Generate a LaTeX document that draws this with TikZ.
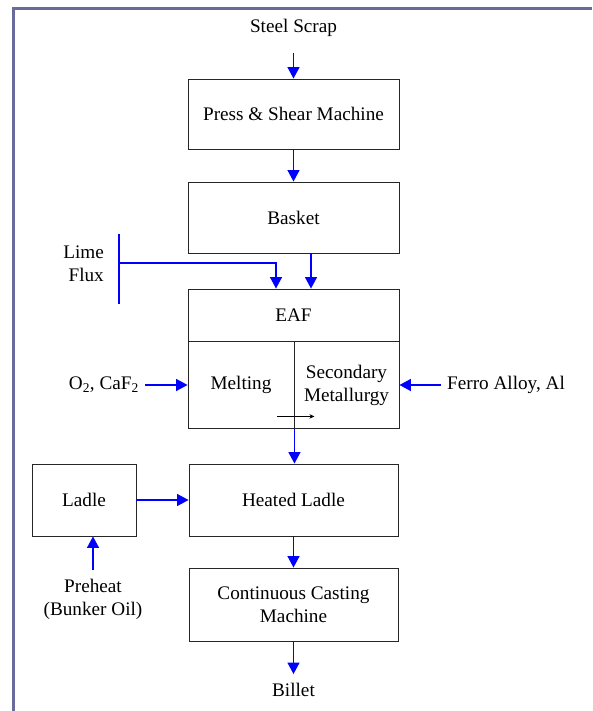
\documentclass[tikz,border=0pt]{standalone}
\usepackage{fontspec}
\setmainfont{Liberation Serif}
\usetikzlibrary{arrows.meta}
\definecolor{framecol}{RGB}{106,106,156}
\definecolor{flowblue}{RGB}{0,0,255}
\tikzset{
  box/.style={draw=black!85, line width=0.9pt, rectangle, inner sep=0pt, align=center},
  lbl/.style={inner sep=0pt, align=center},
  flow/.style={draw=flowblue, line width=1.4pt, -{Triangle[length=11.5pt,width=12pt]}},
  plain/.style={draw=flowblue, line width=1.4pt},
  small/.style={draw=black, line width=0.8pt, -{Stealth[length=5pt,width=4.5pt]}}
}
\begin{document}
\begin{tikzpicture}[x=1pt,y=-1pt,font=\fontsize{19.2}{23}\selectfont]
\useasboundingbox (0,0) rectangle (592,711);
\fill[white] (0,0) rectangle (592,711);
% frame
\draw[framecol, line width=3pt] (13.5,711) -- (13.5,8.5) -- (592,8.5);

% main column
\node[lbl] (scrap) at (293.5,28) {Steel Scrap};
\node[box, minimum width=211pt, minimum height=70pt] (press) at (293.5,114) {Press \& Shear Machine};
\node[box, minimum width=211pt, minimum height=71pt] (basket) at (293.5,217.5) {Basket};
\node[box, minimum width=211pt, minimum height=52.5pt] (eaf) at (293.5,315.25) {EAF};
\node[box, minimum width=106pt, minimum height=87pt] (melt) at (241,385) {Melting};
\node[box, minimum width=105pt, minimum height=87pt] (sec) at (346.5,385) {Secondary\\Metallurgy};
\node[box, minimum width=209pt, minimum height=72pt] (heated) at (293.5,500) {Heated Ladle};
\node[box, minimum width=104pt, minimum height=72pt] (ladle) at (84,500) {Ladle};
\node[box, minimum width=209pt, minimum height=73pt] (cast) at (293.5,604.5) {Continuous Casting\\Machine};
\node[lbl] (billet) at (293.5,690) {Billet};

% side inputs
\node[lbl, align=right, anchor=east] (lime) at (104,263.5) {Lime\\Flux};
\node[lbl, anchor=east] (oxy) at (139,385) {O\textsubscript{2}, CaF\textsubscript{2}};
\node[lbl, anchor=west] (ferro) at (447,385) {Ferro Alloy, Al};
\node[lbl] (preheat) at (93,599.5) {Preheat\\(Bunker Oil)};

\coordinate (limetop) at (119,234);
\coordinate (limebot) at (119,304);
\coordinate (limej) at (119,263);

% connectors
\draw[flow, shorten <=16pt] (scrap.south) -- (press.north);
\draw[flow] (press.south) -- (basket.north);
\draw[flow] ([xshift=17.5pt]basket.south) -- ([xshift=17.5pt]eaf.north);
\draw[plain] (limetop) -- (limebot);
\draw[flow] (limej) -| ([xshift=-17.5pt]eaf.north);
\draw[flow, shorten <=6pt] (oxy.east) -- (melt.west);
\draw[flow, shorten <=6pt] (ferro.west) -- (sec.east);
\draw[small] ([shift={(-17pt,12.5pt)}]melt.south east) -- ([shift={(20pt,12.5pt)}]melt.south east);
\draw[flow] (melt.south east) -- (melt.south east |- heated.north);
\draw[flow] (ladle.east) -- (heated.west);
\draw[flow, shorten <=9pt] (preheat.north) -- (preheat.north |- ladle.south);
\draw[flow] (heated.south) -- (cast.north);
\draw[flow, shorten >=9pt] (cast.south) -- (billet.north);
\end{tikzpicture}
\end{document}
